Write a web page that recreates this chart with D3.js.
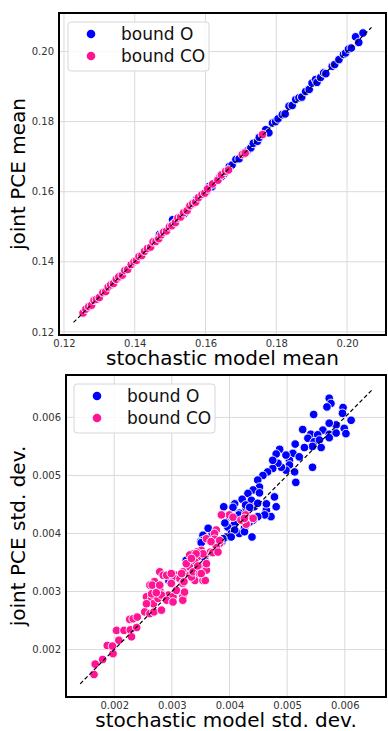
<!DOCTYPE html>
<html>
<head>
<meta charset="utf-8">
<script src="https://cdn.jsdelivr.net/npm/d3@7/dist/d3.min.js"></script>
<style>
  body { margin: 0; background: #fff; }
  text { font-family: "DejaVu Sans", sans-serif; }
</style>
</head>
<body>
<svg id="chart" width="388" height="731"></svg>
<script>
// Series labels and colours
var seriesNames = ["bound O", "bound CO"];
var seriesColors = ["#0000ff", "#ff1493"];

// Top panel: mean values [stochastic model, joint PCE]
var meanBoundO = [
  [0.1470,0.1478],[0.1507,0.1520],[0.1512,0.1510],[0.1545,0.1544],[0.1540,0.1537],[0.1575,0.1578],
  [0.1602,0.1600],[0.1610,0.1615],[0.1618,0.1614],[0.1634,0.1635],[0.1640,0.1641],[0.1646,0.1644],
  [0.1655,0.1653],[0.1667,0.1672],[0.1675,0.1676],[0.1686,0.1692],[0.1695,0.1694],[0.1709,0.1711],
  [0.1718,0.1716],[0.1728,0.1725],[0.1735,0.1738],[0.1747,0.1744],[0.1752,0.1755],[0.1770,0.1777],
  [0.1779,0.1768],[0.1789,0.1796],[0.1798,0.1800],[0.1805,0.1808],[0.1817,0.1820],[0.1825,0.1822],
  [0.1836,0.1844],[0.1845,0.1846],[0.1855,0.1863],[0.1864,0.1868],[0.1872,0.1870],[0.1883,0.1886],
  [0.1893,0.1892],[0.1901,0.1910],[0.1911,0.1920],[0.1915,0.1912],[0.1925,0.1926],[0.1934,0.1939],
  [0.1940,0.1937],[0.1958,0.1958],[0.1965,0.1963],[0.1977,0.1977],[0.1990,0.1992],[0.1996,0.1996],
  [0.2004,0.2007],[0.2012,0.2010],[0.2024,0.2042],[0.2033,0.2026],[0.2045,0.2053]
];
var meanBoundCO = [
  [0.1254,0.1254],[0.1262,0.1265],[0.1270,0.1272],[0.1278,0.1276],[0.1285,0.1290],[0.1292,0.1293],
  [0.1300,0.1298],[0.1310,0.1312],[0.1318,0.1315],[0.1325,0.1328],[0.1332,0.1334],[0.1340,0.1338],
  [0.1348,0.1350],[0.1355,0.1357],[0.1365,0.1362],[0.1372,0.1375],[0.1380,0.1378],[0.1390,0.1392],
  [0.1398,0.1400],[0.1405,0.1404],[0.1412,0.1415],[0.1420,0.1418],[0.1428,0.1430],[0.1436,0.1438],
  [0.1445,0.1442],[0.1452,0.1457],[0.1460,0.1458],[0.1468,0.1466],[0.1475,0.1477],[0.1482,0.1485],
  [0.1490,0.1488],[0.1498,0.1500],[0.1505,0.1503],[0.1515,0.1512],[0.1522,0.1525],[0.1530,0.1528],
  [0.1538,0.1540],[0.1548,0.1546],[0.1556,0.1560],[0.1564,0.1566],[0.1572,0.1570],[0.1580,0.1583],
  [0.1590,0.1592],[0.1598,0.1596],[0.1606,0.1608],[0.1620,0.1622],[0.1635,0.1633],[0.1645,0.1648],
  [0.1657,0.1658],[0.1665,0.1662],[0.1704,0.1706],[0.1712,0.1710],[0.1761,0.1763]
];

// Bottom panel: std. dev. values [stochastic model, joint PCE]
var stdBoundO = [
  [0.00573,0.00633],[0.00576,0.00624],[0.00569,0.00618],[0.00546,0.00605],[0.00597,0.00617],[0.00596,0.00607],
  [0.00611,0.00595],[0.00599,0.00581],[0.00585,0.00587],[0.00573,0.00590],[0.00562,0.00578],[0.00573,0.00571],
  [0.00585,0.00573],[0.00602,0.00572],[0.00527,0.00579],[0.00541,0.00571],[0.00553,0.00570],[0.00536,0.00564],
  [0.00547,0.00558],[0.00556,0.00561],[0.00559,0.00548],[0.00573,0.00565],[0.00544,0.00550],[0.00530,0.00548],
  [0.00514,0.00554],[0.00510,0.00538],[0.00521,0.00532],[0.00504,0.00526],[0.00498,0.00535],[0.00487,0.00545],
  [0.00481,0.00537],[0.00504,0.00518],[0.00513,0.00506],[0.00498,0.00509],[0.00490,0.00514],[0.00484,0.00521],
  [0.00475,0.00512],[0.00466,0.00506],[0.00458,0.00500],[0.00449,0.00492],[0.00475,0.00526],[0.00544,0.00514],
  [0.00515,0.00488],[0.00452,0.00480],[0.00441,0.00475],[0.00432,0.00469],[0.00452,0.00470],[0.00432,0.00452],
  [0.00429,0.00443],[0.00422,0.00459],[0.00438,0.00457],[0.00443,0.00446],[0.00464,0.00440],[0.00478,0.00463],
  [0.00481,0.00446],[0.00472,0.00429],[0.00461,0.00432],[0.00449,0.00429],[0.00441,0.00423],[0.00432,0.00418],
  [0.00426,0.00409],[0.00429,0.00423],[0.00417,0.00435],[0.00409,0.00451],[0.00413,0.00426],[0.00400,0.00429],
  [0.00390,0.00446],[0.00409,0.00417],[0.00397,0.00411],[0.00403,0.00400],[0.00417,0.00400],[0.00434,0.00419],
  [0.00439,0.00394],[0.00372,0.00390],[0.00370,0.00400],[0.00354,0.00397],[0.00350,0.00386],[0.00357,0.00389],
  [0.00387,0.00386],[0.00394,0.00394],[0.00409,0.00406],[0.00406,0.00445],[0.00428,0.00449],[0.00435,0.00445],
  [0.00449,0.00452],[0.00464,0.00451],[0.00416,0.00432],[0.00392,0.00418],[0.00363,0.00409],[0.00354,0.00388],
  [0.00351,0.00384],[0.00389,0.00391],[0.00383,0.00388],[0.00403,0.00394],[0.00426,0.00403],[0.00325,0.00354],
  [0.00295,0.00318],[0.00284,0.00294],[0.00357,0.00358]
];
var stdBoundCO = [
  [0.00400,0.00432],[0.00406,0.00428],[0.00428,0.00432],[0.00438,0.00426],[0.00429,0.00416],[0.00420,0.00423],
  [0.00377,0.00406],[0.00374,0.00400],[0.00383,0.00383],[0.00360,0.00391],[0.00369,0.00386],[0.00377,0.00377],
  [0.00351,0.00371],[0.00343,0.00368],[0.00337,0.00365],[0.00331,0.00363],[0.00345,0.00360],[0.00360,0.00365],
  [0.00367,0.00368],[0.00340,0.00351],[0.00331,0.00342],[0.00351,0.00342],[0.00360,0.00337],[0.00319,0.00334],
  [0.00308,0.00328],[0.00302,0.00325],[0.00314,0.00322],[0.00299,0.00314],[0.00331,0.00328],[0.00340,0.00319],
  [0.00354,0.00319],[0.00319,0.00314],[0.00279,0.00334],[0.00285,0.00328],[0.00270,0.00317],[0.00262,0.00311],
  [0.00279,0.00302],[0.00268,0.00297],[0.00294,0.00294],[0.00302,0.00291],[0.00319,0.00291],[0.00256,0.00291],
  [0.00265,0.00288],[0.00165,0.00157],[0.00167,0.00175],[0.00180,0.00183],[0.00188,0.00207],[0.00198,0.00193],
  [0.00197,0.00206],[0.00208,0.00216],[0.00204,0.00233],[0.00217,0.00233],[0.00228,0.00234],[0.00227,0.00252],
  [0.00230,0.00222],[0.00239,0.00238],[0.00233,0.00253],[0.00240,0.00256],[0.00253,0.00265],[0.00262,0.00262],
  [0.00269,0.00265],[0.00268,0.00279],[0.00256,0.00279],[0.00276,0.00288],[0.00282,0.00294],[0.00291,0.00285],
  [0.00282,0.00268],[0.00265,0.00296],[0.00273,0.00298],[0.00266,0.00311],[0.00279,0.00311],[0.00291,0.00328],
  [0.00299,0.00331],[0.00302,0.00282],[0.00299,0.00314],[0.00308,0.00302],[0.00321,0.00317],[0.00317,0.00331],
  [0.00334,0.00325],[0.00337,0.00334],[0.00348,0.00331],[0.00325,0.00348],[0.00345,0.00344],[0.00358,0.00319],
  [0.00351,0.00331],[0.00354,0.00365],[0.00342,0.00365],[0.00334,0.00357],[0.00360,0.00348],[0.00371,0.00367],
  [0.00380,0.00368],[0.00319,0.00285],[0.00322,0.00299],[0.00386,0.00432],[0.00426,0.00426],[0.00441,0.00426],
  [0.00374,0.00390],[0.00383,0.00388],[0.00368,0.00386]
];

// Axis ticks and the y = x reference line ends
var meanTicks = [0.12, 0.14, 0.16, 0.18, 0.20];
var stdTicks = [0.002, 0.003, 0.004, 0.005, 0.006];
var meanDomain = [0.1186, 0.2110];
var meanYDomain = [0.1191, 0.2110];
var stdDomain = [0.001164, 0.006715];
var stdYDomain = [0.001183, 0.00673];
var meanLine = [0.1227, 0.2069];
var stdLine = [0.00141, 0.00647];

var svg = d3.select("#chart");

function drawPanel(p) {
  var g = svg.append("g");
  var x = d3.scaleLinear().domain(p.xDomain).range([p.left, p.right]);
  var y = d3.scaleLinear().domain(p.yDomain).range([p.bottom, p.top]);

  // Grid
  g.append("g").selectAll("line").data(p.ticks).enter().append("line")
    .attr("x1", d => x(d)).attr("x2", d => x(d))
    .attr("y1", p.top).attr("y2", p.bottom)
    .attr("stroke", "#dadada").attr("stroke-width", 1);
  g.append("g").selectAll("line").data(p.ticks).enter().append("line")
    .attr("y1", d => y(d)).attr("y2", d => y(d))
    .attr("x1", p.left).attr("x2", p.right)
    .attr("stroke", "#dadada").attr("stroke-width", 1);

  // Tick labels through d3 axes (no tick marks, no domain line)
  var xAxis = g.append("g")
    .attr("transform", "translate(0," + p.bottom + ")")
    .call(d3.axisBottom(x).tickValues(p.ticks).tickFormat(d3.format(p.fmt)).tickSize(0).tickPadding(5));
  var yAxis = g.append("g")
    .attr("transform", "translate(" + p.left + ",0)")
    .call(d3.axisLeft(y).tickValues(p.ticks).tickFormat(d3.format(p.fmt)).tickSize(0).tickPadding(5));
  [xAxis, yAxis].forEach(function(a) {
    a.select(".domain").remove();
    a.selectAll("text")
      .attr("fill", "#333")
      .style("font-size", "10px")
      .style("font-family", "'DejaVu Sans', sans-serif");
  });

  // Points: bound O first, bound CO on top
  [p.seriesA, p.seriesB].forEach(function(series, i) {
    g.append("g").selectAll("circle").data(series).enter().append("circle")
      .attr("cx", d => x(d[0]))
      .attr("cy", d => y(d[1]))
      .attr("r", 4.3)
      .attr("fill", seriesColors[i])
      .attr("stroke", "#fff")
      .attr("stroke-width", 0.9);
  });

  // y = x dashed line
  g.append("line")
    .attr("x1", x(p.line[0])).attr("y1", y(p.line[0]))
    .attr("x2", x(p.line[1])).attr("y2", y(p.line[1]))
    .attr("stroke", "#000").attr("stroke-width", 1.2)
    .attr("stroke-dasharray", "4,2.5");

  // Frame
  g.append("rect")
    .attr("x", p.left).attr("y", p.top)
    .attr("width", p.right - p.left).attr("height", p.bottom - p.top)
    .attr("fill", "none").attr("stroke", "#000").attr("stroke-width", 2);

  // Axis titles
  g.append("text")
    .attr("x", (p.left + p.right) / 2).attr("y", p.bottom + 30)
    .attr("text-anchor", "middle")
    .style("font-size", "20px").attr("fill", "#000")
    .text(p.xLabel);
  g.append("text")
    .attr("transform", "translate(25," + ((p.top + p.bottom) / 2) + ") rotate(-90)")
    .attr("text-anchor", "middle")
    .style("font-size", "20px").attr("fill", "#000")
    .text(p.yLabel);

  // Legend
  var lg = g.append("g").attr("transform", "translate(" + p.legend[0] + "," + p.legend[1] + ")");
  lg.append("rect")
    .attr("width", 141).attr("height", 49).attr("rx", 3)
    .attr("fill", "#fff").attr("fill-opacity", 0.85)
    .attr("stroke", "#d6d6d6").attr("stroke-width", 1);
  seriesNames.forEach(function(name, i) {
    lg.append("circle")
      .attr("cx", 23).attr("cy", 12 + i * 22).attr("r", 4.3)
      .attr("fill", seriesColors[i]);
    lg.append("text")
      .attr("x", 53).attr("y", 18 + i * 22)
      .style("font-size", "17px").attr("fill", "#111")
      .text(name);
  });
}

drawPanel({
  left: 59, right: 386, top: 13, bottom: 335,
  xDomain: meanDomain, yDomain: meanYDomain, ticks: meanTicks, fmt: ".2f",
  seriesA: meanBoundO, seriesB: meanBoundCO, line: meanLine,
  xLabel: "stochastic model mean", yLabel: "joint PCE mean",
  legend: [68, 22]
});

drawPanel({
  left: 66, right: 386, top: 375, bottom: 697,
  xDomain: stdDomain, yDomain: stdYDomain, ticks: stdTicks, fmt: ".3f",
  seriesA: stdBoundO, seriesB: stdBoundCO, line: stdLine,
  xLabel: "stochastic model std. dev.", yLabel: "joint PCE std. dev.",
  legend: [74, 384]
});
</script>
</body>
</html>
